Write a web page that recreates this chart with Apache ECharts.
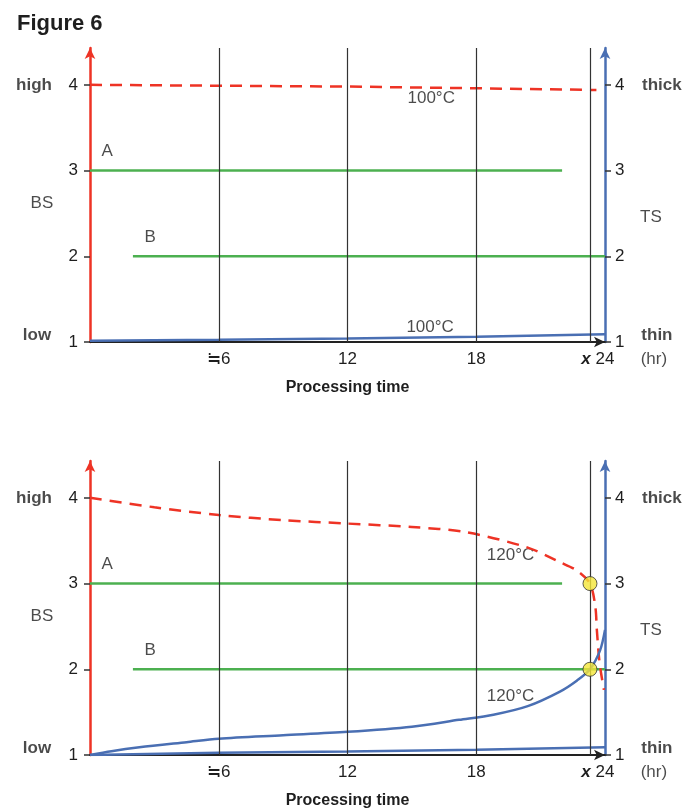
<!DOCTYPE html>
<html>
<head>
<meta charset="utf-8">
<title>Figure 6</title>
<script src="https://cdn.jsdelivr.net/npm/echarts@6/dist/echarts.min.js"></script>
<style>
html, body { margin: 0; padding: 0; background: #fff; }
#main { width: 686px; height: 812px; }
</style>
</head>
<body>
<div id="main"></div>
<script>
// 刻度
var yTicks = [1, 2, 3, 4];
var xTicks = [6, 12, 18, 23.3, 24];
var xTickText = ['≒6', '12', '18', 'x', '24'];
var timeLines = [6, 12, 18, 23.3];

// A / B 水平线
var lineA = [[0, 3], [22, 3]];
var lineB = [[2, 2], [24, 2]];

// 100°C
var bs100 = [[0, 4], [6, 3.99], [12, 3.98], [18, 3.96], [23.6, 3.94]];
var ts100 = [[0, 1.015], [6, 1.025], [12, 1.04], [18, 1.06], [24, 1.09]];

// 120°C
var bs120 = [[0, 4], [3, 3.89], [6, 3.8], [9, 3.74], [12, 3.7], [15, 3.66], [17.5, 3.6], [20.4, 3.42], [21.9, 3.25],
    [22.7, 3.15], [23.3, 3.0], [23.55, 2.73], [23.62, 2.46], [23.75, 2.07], [23.95, 1.76]];
var ts120 = [[0, 1], [1, 1.045], [2.3, 1.09], [4.5, 1.15], [6, 1.19], [9, 1.23], [12, 1.27], [15, 1.33],
    [17.2, 1.41], [18.8, 1.47], [20.4, 1.57], [21.9, 1.74], [22.7, 1.87], [23.3, 2.0], [23.77, 2.22], [24, 2.46]];
var bs100b = [[0, 1.0], [6, 1.025], [12, 1.04], [18, 1.06], [24, 1.09]];
var crossPoints = [[23.3, 3], [23.3, 2]];

// 文字
var notesTop = [[0.8, 3.22, 'A'], [2.8, 2.22, 'B'], [15.9, 3.84, '100°C'], [15.85, 1.175, '100°C']];
var notesBottom = [[0.8, 3.22, 'A'], [2.8, 2.22, 'B'], [19.6, 3.33, '120°C'], [19.6, 1.68, '120°C']];
var sideText = [[-2.61, 4, 'high'], [-2.24, 2.62, 'BS'], [-2.47, 1.08, 'low'],
    [26.65, 4, 'thick'], [26.14, 2.45, 'TS'], [26.42, 1.08, 'thin'], [26.28, 0.8, '(hr)']];
var boldWords = ['high', 'low', 'thick', 'thin'];

var red = '#ee3325';
var blue = '#4a6fb3';
var green = '#4cb050';
var ink = '#1e1e1e';
var font = 'Liberation Sans, Arial, sans-serif';

var myChart = echarts.init(document.getElementById('main'));

function xAxisFor(i) {
    return {
        type: 'value', gridIndex: i, min: 0, max: 24,
        name: 'Processing time', nameLocation: 'middle', nameGap: 38,
        nameTextStyle: { fontWeight: 'bold', fontSize: 16, color: ink, fontFamily: font },
        axisLine: { show: true, symbol: ['none', 'arrow'], symbolSize: [8, 11], lineStyle: { color: '#222', width: 2 } },
        axisTick: { show: false },
        splitLine: { show: false },
        axisLabel: {
            customValues: xTicks, margin: 9, fontSize: 17, color: ink, fontFamily: font,
            formatter: function (v) {
                var t = xTickText[xTicks.indexOf(v)];
                return t === 'x' ? '{x|x}' : t;
            },
            rich: { x: { fontWeight: 'bold', fontStyle: 'italic', fontSize: 17, color: ink, fontFamily: font, padding: [0, 8, 0, 0] } }
        }
    };
}
function yAxisFor(i, pos, color) {
    return {
        type: 'value', gridIndex: i, position: pos, min: 1, max: 4.43,
        axisLine: { show: true, symbol: ['none', 'arrow'], symbolSize: [8, 11], lineStyle: { color: color, width: 2.5 } },
        axisTick: { show: true, customValues: yTicks, length: 6, lineStyle: { color: '#333', width: 1.5 } },
        axisLabel: { customValues: yTicks, margin: pos === 'left' ? 12 : 10, fontSize: 17, color: ink, fontFamily: font },
        splitLine: { show: false }
    };
}
function plain(i, data, color, extra) {
    var s = {
        type: 'line', xAxisIndex: i, yAxisIndex: i * 2, data: data,
        symbol: 'none', silent: true, animation: false,
        lineStyle: { color: color, width: 2.5 }
    };
    for (var k in extra) s[k] = extra[k];
    return s;
}
function textSeries(i, data) {
    return {
        type: 'scatter', xAxisIndex: i, yAxisIndex: i * 2, data: data,
        symbolSize: 1, clip: false, silent: true, animation: false,
        itemStyle: { color: 'rgba(0,0,0,0)' },
        label: {
            show: true, position: 'inside', fontSize: 17, color: ink, fontFamily: font,
            formatter: function (p) {
                var t = p.data[2];
                return boldWords.indexOf(t) >= 0 ? '{b|' + t + '}' : t;
            },
            rich: { b: { fontWeight: 'bold', fontSize: 17, color: ink, fontFamily: font } }
        }
    };
}
function vLines() {
    return {
        symbol: ['none', 'none'], silent: true, animation: false,
        label: { show: false },
        lineStyle: { color: '#333', width: 1.2, type: 'solid' },
        data: timeLines.map(function (t) { return { xAxis: t }; })
    };
}

var option = {
    animation: false,
    title: { text: 'Figure 6', left: 12, top: 8, textStyle: { fontSize: 22, fontWeight: 'bold', color: ink, fontFamily: font } },
    grid: [
        { left: 90, right: 81, top: 48, height: 294 },
        { left: 90, right: 81, top: 461, height: 294 }
    ],
    xAxis: [xAxisFor(0), xAxisFor(1)],
    yAxis: [yAxisFor(0, 'left', red), yAxisFor(0, 'right', blue), yAxisFor(1, 'left', red), yAxisFor(1, 'right', blue)],
    series: [
        // 上图 100°C
        plain(0, lineA, green, { markLine: vLines() }),
        plain(0, lineB, green),
        plain(0, bs100, red, { lineStyle: { color: red, width: 2.5, type: [12, 8] } }),
        plain(0, ts100, blue),
        textSeries(0, notesTop),
        textSeries(0, sideText),
        // 下图 120°C
        plain(1, lineA, green, { markLine: vLines() }),
        plain(1, lineB, green),
        plain(1, bs120, red, { smooth: 0.3, lineStyle: { color: red, width: 2.5, type: [12, 8] } }),
        plain(1, ts120, blue, { smooth: 0.3 }),
        plain(1, bs100b, blue),
        {
            type: 'scatter', xAxisIndex: 1, yAxisIndex: 2, data: crossPoints,
            symbolSize: 14, silent: true, animation: false, z: 5,
            itemStyle: { color: '#f4e638', borderColor: '#333', borderWidth: 1 }
        },
        textSeries(1, notesBottom),
        textSeries(1, sideText)
    ]
};

myChart.setOption(option);
</script>
</body>
</html>
